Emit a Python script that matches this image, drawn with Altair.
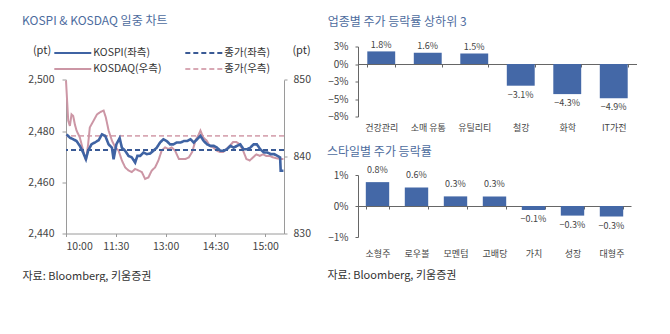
import altair as alt
import pandas as pd

FONT = "Noto Sans CJK KR"
TITLE_COLOR = "#4d6c9e"
TEXT_COLOR = "#444444"
SRC_COLOR = "#333333"
AXIS_COLOR = "#9a9a9a"
BAR_COLOR = "#4468a7"

source_text = "자료: Bloomberg, 키움증권"

# ---------------- intraday chart data ----------------
time_ticks = [0, 90, 180, 270, 360]          # minutes after 10:00
time_labels = ["10:00", "11:30", "13:00", "14:30", "15:00"]

kospi_min = [1, 7, 13, 19, 25, 31, 36, 40, 46, 52, 59, 65, 71, 77, 83, 86, 91, 97, 101, 107,
             113, 119, 125, 129, 134, 140, 146, 152, 158, 164, 170, 176, 182, 188, 194, 200,
             207, 213, 219, 225, 231, 237, 243, 249, 255, 261, 267, 273, 279, 285, 291, 297,
             303, 309, 315, 321, 327, 333, 339, 345, 351, 358, 364, 370, 376, 382, 387, 388, 393]
kospi_val = [2478.7, 2477.4, 2476.8, 2476.1, 2474.2, 2471.6, 2469.0, 2472.3, 2474.8, 2475.5,
             2476.4, 2478.7, 2478.1, 2474.8, 2473.5, 2469.0, 2474.8, 2477.2, 2473.5, 2472.3,
             2470.3, 2469.7, 2467.7, 2470.3, 2470.3, 2471.6, 2471.0, 2471.2, 2472.3, 2473.5,
             2475.5, 2476.8, 2476.1, 2474.8, 2474.8, 2475.5, 2475.5, 2476.1, 2476.1, 2476.8,
             2475.5, 2476.8, 2478.1, 2476.1, 2474.8, 2474.2, 2474.2, 2473.5, 2472.3, 2472.3,
             2472.9, 2474.2, 2473.5, 2474.2, 2474.8, 2472.9, 2472.9, 2473.5, 2474.8, 2474.8,
             2472.9, 2471.6, 2471.6, 2471.0, 2471.0, 2470.3, 2469.7, 2464.5, 2464.5]

kosdaq_min = [0, 4, 7, 10, 13, 16, 19, 25, 31, 36, 40, 43, 50, 56, 62, 68, 72, 77, 83, 89,
              95, 101, 107, 113, 119, 125, 131, 137, 143, 149, 155, 161, 167, 173, 179, 185,
              191, 197, 204, 210, 216, 222, 228, 234, 240, 243, 248, 254, 260, 266, 272, 278,
              284, 290, 296, 302, 308, 314, 320, 326, 332, 338, 344, 350, 356, 362, 368, 374,
              380, 387, 393]
kosdaq_val = [849.9, 844.7, 844.0, 845.5, 845.3, 844.2, 843.4, 842.5, 840.8, 839.5,
              841.6, 843.8, 844.7, 845.5, 845.8, 846.0, 845.1, 843.4, 842.1, 841.2,
              840.8, 839.5, 838.6, 838.2, 838.0, 838.4, 838.2, 838.0, 837.1, 837.3,
              838.2, 838.6, 839.5, 840.8, 841.2, 841.0, 841.2, 840.8, 839.7, 839.7,
              839.7, 839.9, 840.6, 842.1, 842.9, 843.4, 842.5, 842.1, 841.4, 841.2,
              840.8, 840.6, 840.6, 841.0, 841.4, 841.9, 841.9, 841.6, 840.8, 839.7,
              839.5, 839.9, 840.3, 840.1, 840.3, 840.1, 840.1, 839.9, 839.8, 839.7, 839.7]

kospi_close = [2472.6]
kosdaq_close = [842.7]

# legend fills column by column: KOSPI/KOSDAQ in column 1, closes in column 2
series_names = ["KOSPI(좌측)", "KOSDAQ(우측)", "종가(좌측)", "종가(우측)"]
series_colors = ["#3f63a3", "#cc96a5", "#3a5a95", "#d8a8b4"]
series_dashes = [[1, 0], [1, 0], [5, 3], [5, 3]]

left_ticks = [2440, 2460, 2480, 2500]
right_ticks = [830, 840, 850]

# ---------------- bar chart data ----------------
sector_names = ["건강관리", "소매 유통", "유틸리티", "철강", "화학", "IT가전"]
sector_values = [1.8, 1.6, 1.5, -3.1, -4.3, -4.9]
sector_ticks = [2.5, 0, -2.5, -5, -7.5]

style_names = ["소형주", "로우볼", "모멘텀", "고배당", "가치", "성장", "대형주"]
style_values = [0.77, 0.6, 0.31, 0.31, -0.13, -0.31, -0.34]
style_ticks = [1, 0, -1]

# ---------------- intraday chart ----------------
label_expr = " : ".join(f"datum.value == {v} ? '{l}'" for v, l in zip(time_ticks, time_labels)) + " : ''"

kospi_df = pd.DataFrame({"t": kospi_min, "v": kospi_val, "series": series_names[0]})
kosdaq_df = pd.DataFrame({"t": kosdaq_min, "v": kosdaq_val, "series": series_names[1]})
kospi_close_df = pd.DataFrame({"v": kospi_close, "series": [series_names[2]]})
kosdaq_close_df = pd.DataFrame({"v": kosdaq_close, "series": [series_names[3]]})

LW = 218
LH = 187          # full panel height (origin aligned with the right-hand top panel)
Y_TOP = 33.3      # pixel offset of the top of the value range inside the panel

x_enc = alt.X(
    "t:Q",
    scale=alt.Scale(domain=[0, 394], nice=False, zero=False),
    axis=alt.Axis(values=time_ticks, labelExpr=label_expr, grid=False,
                  title=source_text, titleX=-44, titleY=43, titleAlign="left",
                  titleBaseline="middle", titleFontSize=11, titleFontWeight="normal",
                  titleColor=SRC_COLOR, labelFontSize=10.5, labelColor=TEXT_COLOR,
                  tickSize=3, labelPadding=5, domainColor=AXIS_COLOR, tickColor=AXIS_COLOR),
)

# long, flat legend line: a wide path inside a small symbol box keeps the rows compact
legend = alt.Legend(orient="none", legendX=-13, legendY=-1, columns=2,
                    symbolType="M-3,0H3", symbolSize=152, symbolStrokeWidth=2,
                    symbolOffset=12.3, labelOffset=13,
                    labelFontSize=10.5, labelColor="#333333", labelFont=FONT,
                    columnPadding=19, rowPadding=3)

color_enc = alt.Color("series:N", title=None,
                      scale=alt.Scale(domain=series_names, range=series_colors),
                      legend=legend)
dash_enc = alt.StrokeDash("series:N", title=None,
                          scale=alt.Scale(domain=series_names, range=series_dashes),
                          legend=legend)

yL = alt.Y("v:Q", scale=alt.Scale(domain=[2440, 2500], nice=False, zero=False,
                                  range=[LH, Y_TOP]),
           axis=alt.Axis(orient="left", values=left_ticks, format=",.0f", grid=False,
                         title="(pt)", titleAngle=0, titleX=-24.5, titleY=4.3,
                         titleAlign="center", titleBaseline="middle", titleFontSize=11,
                         titleFontWeight="normal", titleColor="#333333",
                         labelFontSize=10.5, labelColor=TEXT_COLOR, tickSize=4,
                         labelPadding=8, domainColor=AXIS_COLOR, tickColor=AXIS_COLOR))
yR = alt.Y("v:Q", scale=alt.Scale(domain=[830, 850], nice=False, zero=False,
                                  range=[LH, Y_TOP]),
           axis=alt.Axis(orient="right", values=right_ticks, format=",.0f", grid=False,
                         title="(pt)", titleAngle=0, titleX=17, titleY=4.3,
                         titleAlign="center", titleBaseline="middle", titleFontSize=11,
                         titleFontWeight="normal", titleColor="#333333",
                         labelFontSize=10.5, labelColor=TEXT_COLOR, tickSize=3,
                         labelPadding=6, domainColor=AXIS_COLOR, tickColor=AXIS_COLOR))

kospi_rule = alt.Chart(kospi_close_df).mark_rule(strokeWidth=2).encode(
    y=yL, color=color_enc, strokeDash=dash_enc)
kospi_line = alt.Chart(kospi_df).mark_line(strokeWidth=2.6).encode(
    x=x_enc, y=yL, color=color_enc, strokeDash=dash_enc)
kosdaq_rule = alt.Chart(kosdaq_close_df).mark_rule(strokeWidth=1.6).encode(
    y=yR, color=color_enc, strokeDash=dash_enc)
kosdaq_line = alt.Chart(kosdaq_df).mark_line(strokeWidth=2).encode(
    x=x_enc, y=yR, color=color_enc, strokeDash=dash_enc)

left_chart = alt.layer(
    alt.layer(kosdaq_rule, kosdaq_line),
    alt.layer(kospi_rule, kospi_line),
).resolve_scale(y="independent").properties(
    width=LW, height=LH,
    title=alt.TitleParams("KOSPI & KOSDAQ 일중 차트", anchor="start", fontSize=12,
                          fontWeight="normal", color=TITLE_COLOR, font=FONT, offset=17.2),
)


# ---------------- bar charts ----------------
def bar_panel(names, values, yticks, ydom, w, h, title_text, title_offset,
              pos_dy, neg_dy, label_pad, src=None):
    df = pd.DataFrame({"cat": names, "val": values})
    zero_off = h * (0 - ydom[0]) / (ydom[1] - ydom[0])
    xaxis_kw = dict(orient="bottom", offset=-zero_off, labelAngle=0, labelPadding=label_pad,
                    tickBand="extent", tickSize=3, domainColor="#666666", tickColor="#666666",
                    labelFontSize=9, labelColor=TEXT_COLOR, grid=False)
    if src is not None:
        xaxis_kw.update(title=src, titleX=-31, titleY=69, titleAlign="left",
                        titleBaseline="middle", titleFontSize=11, titleFontWeight="normal",
                        titleColor=SRC_COLOR)
    else:
        xaxis_kw.update(title=None)
    x = alt.X("cat:N", sort=None,
              scale=alt.Scale(paddingInner=0.4, paddingOuter=0.2),
              axis=alt.Axis(**xaxis_kw))
    y = alt.Y("val:Q", scale=alt.Scale(domain=ydom, nice=False, zero=False),
              axis=alt.Axis(values=yticks, labelExpr="format(datum.value, '.0f') + '%'",
                            grid=False, tickSize=3, labelPadding=7, domainColor="#666666",
                            tickColor="#666666", labelFontSize=10, labelColor=TEXT_COLOR,
                            title=None))
    base = alt.Chart(df).transform_calculate(
        lab="format(datum.val, '.1f') + '%'"
    ).encode(x=x, y=y)
    bars = base.mark_bar(color=BAR_COLOR)
    pos = base.transform_filter("datum.val >= 0").mark_text(
        baseline="middle", dy=pos_dy, fontSize=9, color=TEXT_COLOR).encode(text="lab:N")
    neg = base.transform_filter("datum.val < 0").mark_text(
        baseline="middle", dy=neg_dy, fontSize=9, color=TEXT_COLOR).encode(text="lab:N")
    return alt.layer(bars, pos, neg).properties(
        width=w, height=h,
        title=alt.TitleParams(title_text, anchor="start", fontSize=12, fontWeight="normal",
                              color=TITLE_COLOR, font=FONT, offset=title_offset),
    )


top_bar = bar_panel(sector_names, sector_values, sector_ticks, [-7.5, 2.5], 279, 70,
                    "업종별 주가 등락률 상하위 3", 12.2, -6.5, 9, 56.5)
bottom_bar = bar_panel(style_names, style_values, style_ticks, [-1, 1], 273, 62,
                       "스타일별 주가 등락률", 7.3, -12, 9, 40.5, src=source_text)

right_col = alt.vconcat(top_bar, bottom_bar, spacing=12.5)

chart = alt.hconcat(left_chart, right_col, spacing=16).properties(
    padding={"left": 22, "top": 14.5, "right": 0, "bottom": 0}
).configure(font=FONT).configure_view(stroke=None).configure_text(font=FONT)

chart.save("out.html", embed_options={"renderer": "svg", "actions": False})
